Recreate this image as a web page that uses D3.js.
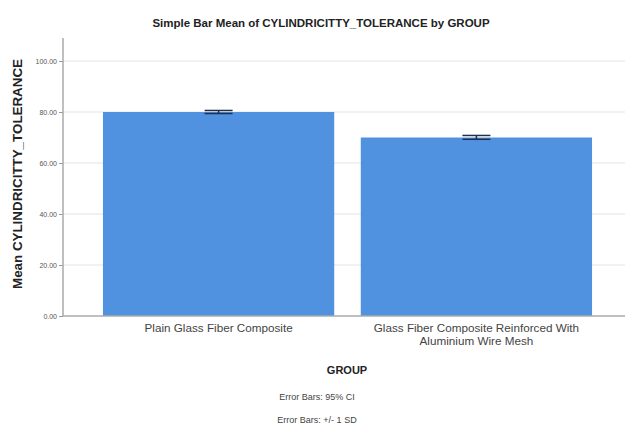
<!DOCTYPE html>
<html>
<head>
<meta charset="utf-8">
<script src="https://cdn.jsdelivr.net/npm/d3@7"></script>
<style>
  body { margin: 0; background: #fff; }
  svg { display: block; font-family: "Liberation Sans", Arial, sans-serif; }
</style>
</head>
<body>
<div id="chart"></div>
<script>
// data
var groups = ["Plain Glass Fiber Composite", "Glass Fiber Composite Reinforced With Aluminium Wire Mesh"];
var groupLines = [["Plain Glass Fiber Composite"], ["Glass Fiber Composite Reinforced With", "Aluminium Wire Mesh"]];
var means = [80.0, 70.0];
var errLow = [79.4, 69.3];
var errHigh = [80.6, 70.8];
var yTicks = [0, 20, 40, 60, 80, 100];

var W = 625, H = 425;
var m = {left: 63, top: 38, right: 632, bottom: 316};

var svg = d3.select("#chart").append("svg")
    .attr("width", W).attr("height", H);

var x = d3.scaleBand().domain(groups).range([m.left, m.right])
    .paddingInner(0.103).paddingOuter(0.155);
var y = d3.scaleLinear().domain([0, 100]).range([m.bottom, 61]);

// gridlines
svg.append("g").selectAll("line").data(yTicks.filter(function(d){return d>0;}))
  .enter().append("line")
    .attr("x1", m.left).attr("x2", W)
    .attr("y1", function(d){return y(d);}).attr("y2", function(d){return y(d);})
    .style("stroke", "#e3e3e3").style("stroke-width", 1);

// bars
svg.append("g").selectAll("rect").data(groups)
  .enter().append("rect")
    .attr("x", function(d){return x(d);})
    .attr("width", x.bandwidth())
    .attr("y", function(d,i){return y(means[i]);})
    .attr("height", function(d,i){return y(0) - y(means[i]);})
    .style("fill", "#5192e0");

// error bars
var eb = svg.append("g").selectAll("g").data(groups).enter().append("g")
    .attr("transform", function(d){return "translate(" + (x(d) + x.bandwidth()/2) + ",0)";});
eb.append("line")
    .attr("y1", function(d,i){return y(errLow[i]);})
    .attr("y2", function(d,i){return y(errHigh[i]);})
    .style("stroke", "#1d3050").style("stroke-width", 1.5);
eb.each(function(d,i){
    var g = d3.select(this);
    [errLow[i], errHigh[i]].forEach(function(v){
        g.append("line").attr("x1", -14).attr("x2", 14)
            .attr("y1", y(v)).attr("y2", y(v))
            .style("stroke", "#1d3050").style("stroke-width", 1.5);
    });
});

// y axis
var yAxis = d3.axisLeft(y).tickValues(yTicks).tickSize(4)
    .tickFormat(d3.format(".2f"));
var gy = svg.append("g").attr("transform", "translate(" + m.left + ",0)").call(yAxis);
gy.select(".domain").remove();
gy.selectAll(".tick line").style("stroke", "#999");
gy.selectAll(".tick text").style("font-size", "7px").style("fill", "#555")
    .attr("x", -6);
svg.append("line").attr("x1", m.left).attr("x2", m.left)
    .attr("y1", m.top).attr("y2", m.bottom)
    .style("stroke", "#aaa").style("stroke-width", 1.5);

// x axis
svg.append("line").attr("x1", m.left).attr("x2", W)
    .attr("y1", m.bottom).attr("y2", m.bottom)
    .style("stroke", "#aaa").style("stroke-width", 1.5);
var xl = svg.append("g").selectAll("text").data(groups).enter().append("text")
    .attr("x", function(d){return x(d) + x.bandwidth()/2;})
    .attr("y", 332)
    .attr("text-anchor", "middle")
    .style("font-size", "11.7px").style("fill", "#444");
xl.each(function(d,i){
    var t = d3.select(this);
    groupLines[i].forEach(function(line, j){
        t.append("tspan").attr("x", x(d) + x.bandwidth()/2)
            .attr("dy", j === 0 ? 0 : 13).text(line);
    });
});

// titles
svg.append("text").attr("x", 321).attr("y", 27).attr("text-anchor", "middle")
    .style("font-size", "11.5px").style("font-weight", "bold").style("fill", "#222")
    .text("Simple Bar Mean of CYLINDRICITTY_TOLERANCE by GROUP");
svg.append("text").attr("transform", "translate(22,174) rotate(-90)")
    .attr("text-anchor", "middle")
    .attr("textLength", 230).attr("lengthAdjust", "spacingAndGlyphs")
    .style("font-size", "12px").style("font-weight", "bold").style("fill", "#222")
    .text("Mean CYLINDRICITTY_TOLERANCE");
svg.append("text").attr("x", 347).attr("y", 374).attr("text-anchor", "middle")
    .style("font-size", "11px").style("font-weight", "bold").style("fill", "#222")
    .text("GROUP");
svg.append("text").attr("x", 317).attr("y", 400).attr("text-anchor", "middle")
    .style("font-size", "9px").style("fill", "#444")
    .text("Error Bars: 95% CI");
svg.append("text").attr("x", 317).attr("y", 423).attr("text-anchor", "middle")
    .style("font-size", "9px").style("fill", "#444")
    .text("Error Bars: +/- 1 SD");
</script>
</body>
</html>
